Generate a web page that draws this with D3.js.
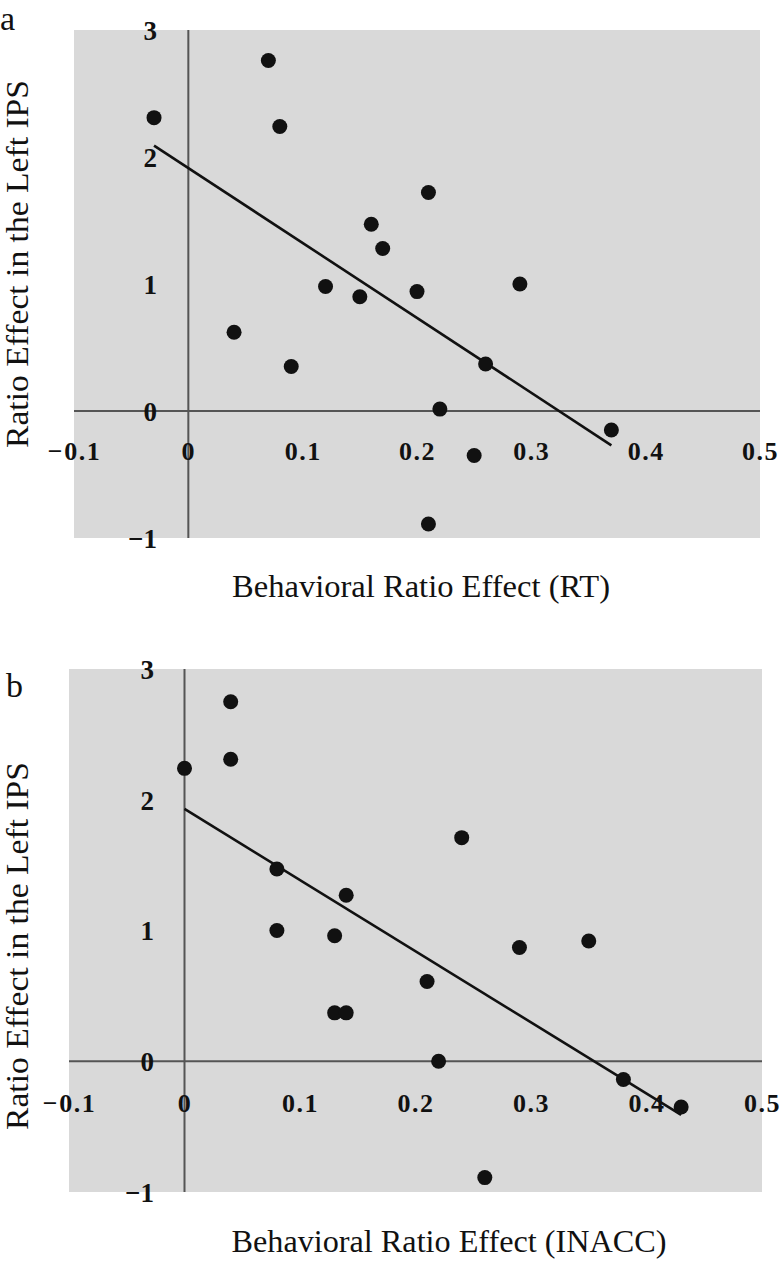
<!DOCTYPE html>
<html>
<head>
<meta charset="utf-8">
<script src="https://cdn.jsdelivr.net/npm/d3@7"></script>
<style>
  html, body { margin: 0; padding: 0; background: #ffffff; }
  svg { display: block; }
  text { font-family: "Liberation Serif", "Times New Roman", serif; fill: #111; }
</style>
</head>
<body>
<svg id="chart" width="782" height="1268"></svg>
<script>
// ---- data ----
const xTicks = [-0.1, 0, 0.1, 0.2, 0.3, 0.4, 0.5];
const yTicks = [-1, 0, 1, 2, 3];

// Panel a: Behavioral Ratio Effect (RT) vs Ratio Effect in the Left IPS
const rtX = [-0.03, 0.07, 0.08, 0.04, 0.09, 0.12, 0.15, 0.16, 0.17, 0.20, 0.21, 0.21, 0.22, 0.25, 0.26, 0.29, 0.37];
const rtY = [2.31, 2.76, 2.24, 0.62, 0.35, 0.98, 0.90, 1.47, 1.28, 0.94, 1.72, -0.89, 0.015, -0.35, 0.37, 1.00, -0.15];
const rtFitX = [-0.03, 0.37];
const rtFitY = [2.09, -0.27];

// Panel b: Behavioral Ratio Effect (INACC) vs Ratio Effect in the Left IPS
const inaccX = [0.00, 0.04, 0.04, 0.08, 0.08, 0.13, 0.13, 0.14, 0.14, 0.21, 0.22, 0.24, 0.26, 0.29, 0.35, 0.38, 0.43];
const inaccY = [2.24, 2.75, 2.31, 1.47, 1.00, 0.96, 0.37, 1.27, 0.37, 0.61, 0.00, 1.71, -0.89, 0.87, 0.92, -0.14, -0.35];
const inaccFitX = [0.00, 0.43];
const inaccFitY = [1.93, -0.41];

const panels = [
  { label: "a", xs: rtX, ys: rtY, fx: rtFitX, fy: rtFitY,
    xTitle: "Behavioral Ratio Effect (RT)", yTitle: "Ratio Effect in the Left IPS",
    left: 74, right: 760, top: 30, bottom: 538,
    labelX: 0, labelY: 30, xTitleX: 421, xTitleY: 597, xTitleLen: 378,
    yTitleX: 28, yTitleY: 264, xLabOff: 40, yLabRight: 157 },
  { label: "b", xs: inaccX, ys: inaccY, fx: inaccFitX, fy: inaccFitY,
    xTitle: "Behavioral Ratio Effect (INACC)", yTitle: "Ratio Effect in the Left IPS",
    left: 69, right: 762, top: 669, bottom: 1192,
    labelX: 6, labelY: 697, xTitleX: 449, xTitleY: 1252, xTitleLen: 435,
    yTitleX: 28, yTitleY: 946, xLabOff: 42, yLabRight: 154 }
];

const svg = d3.select("#chart");

panels.forEach(p => {
  const x = d3.scaleLinear().domain([-0.1, 0.5]).range([p.left, p.right]);
  const y = d3.scaleLinear().domain([-1, 3]).range([p.bottom, p.top]);
  const g = svg.append("g");

  // plot area background
  g.append("rect")
    .attr("x", x(-0.1)).attr("y", y(3))
    .attr("width", x(0.5) - x(-0.1)).attr("height", y(-1) - y(3))
    .attr("fill", "#d9d9d9");

  // zero lines
  g.append("line")
    .attr("x1", x(-0.1)).attr("x2", x(0.5)).attr("y1", y(0)).attr("y2", y(0))
    .attr("stroke", "#555").attr("stroke-width", 2);
  g.append("line")
    .attr("x1", x(0)).attr("x2", x(0)).attr("y1", y(3)).attr("y2", y(-1))
    .attr("stroke", "#555").attr("stroke-width", 2);

  // x tick labels
  const xa = g.append("g")
    .attr("transform", `translate(0,${y(0)})`)
    .call(d3.axisBottom(x).tickValues(xTicks).tickSize(0).tickFormat(d => d3.format("")(+d.toFixed(1))));
  xa.select(".domain").remove();
  xa.selectAll("text")
    .attr("y", p.xLabOff).attr("dy", "0.35em")
    .style("font-family", '"Liberation Serif", "Times New Roman", serif')
    .style("font-size", "26px").style("font-weight", "bold")
    .style("letter-spacing", "1.5px").attr("fill", "#111");

  // y tick labels
  const ya = g.append("g")
    .attr("transform", `translate(${p.yLabRight},0)`)
    .call(d3.axisLeft(y).tickValues(yTicks).tickSize(0).tickPadding(0).tickFormat(d3.format("d")));
  ya.select(".domain").remove();
  ya.selectAll("text")
    .attr("dy", "0.35em")
    .style("font-family", '"Liberation Serif", "Times New Roman", serif')
    .style("font-size", "27px").style("font-weight", "bold").attr("fill", "#111");

  // regression line
  const fit = p.fx.map((v, i) => [v, p.fy[i]]);
  g.append("path")
    .datum(fit)
    .attr("d", d3.line().x(d => x(d[0])).y(d => y(d[1])))
    .attr("fill", "none").attr("stroke", "#111").attr("stroke-width", 2.6);

  // points
  const pts = p.xs.map((v, i) => [v, p.ys[i]]);
  g.selectAll("circle.pt").data(pts).enter().append("circle")
    .attr("class", "pt")
    .attr("cx", d => x(d[0])).attr("cy", d => y(d[1]))
    .attr("r", 7.5).attr("fill", "#111");

  // panel letter
  svg.append("text").attr("x", p.labelX).attr("y", p.labelY)
    .style("font-size", "34px").text(p.label);

  // x title
  svg.append("text").attr("x", p.xTitleX).attr("y", p.xTitleY)
    .attr("text-anchor", "middle")
    .attr("textLength", p.xTitleLen).attr("lengthAdjust", "spacingAndGlyphs")
    .style("font-size", "31px").text(p.xTitle);

  // y title
  svg.append("text")
    .attr("transform", `translate(${p.yTitleX},${p.yTitleY}) rotate(-90)`)
    .attr("text-anchor", "middle")
    .attr("textLength", 368).attr("lengthAdjust", "spacingAndGlyphs")
    .style("font-size", "32px").text(p.yTitle);
});
</script>
</body>
</html>
